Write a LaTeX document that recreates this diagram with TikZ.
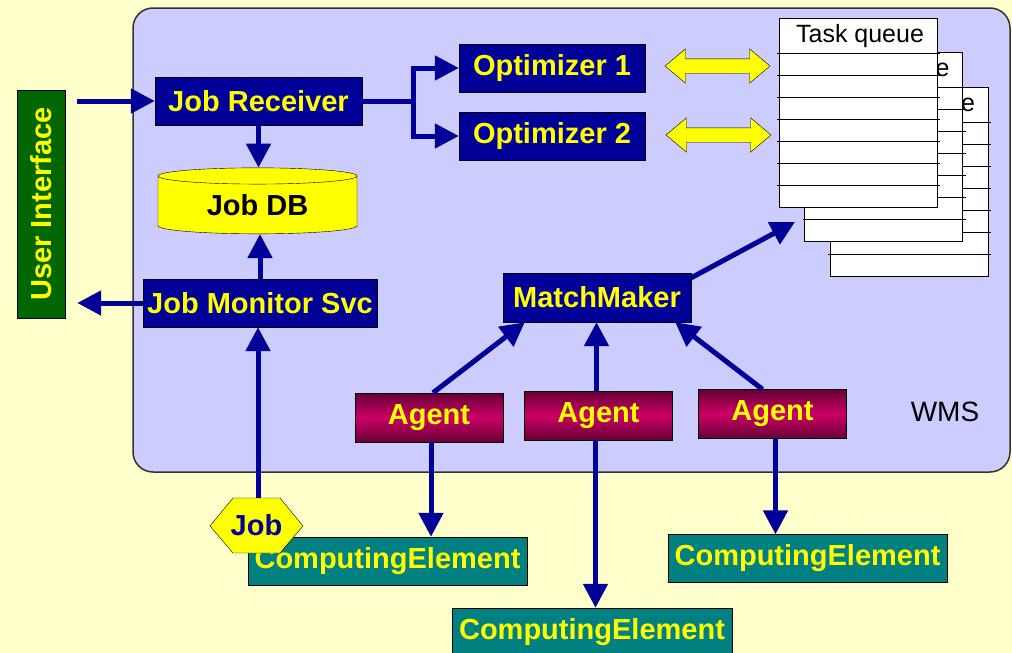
\documentclass[tikz,border=0pt]{standalone}
\usepackage{fontspec}
\setmainfont{Liberation Sans}
\usepackage{tikz}
\usetikzlibrary{positioning, arrows.meta, shapes.geometric, shapes.arrows}

\definecolor{paper}{HTML}{FFFFCC}
\definecolor{wmsfill}{HTML}{CCCCFF}
\definecolor{navy}{HTML}{000099}
\definecolor{uigreen}{HTML}{006600}
\definecolor{teal}{HTML}{008080}
\definecolor{agdark}{HTML}{660033}
\definecolor{agpink}{HTML}{CC0066}
\definecolor{hlyellow}{HTML}{FFFF00}

\tikzset{
	lbl/.style={font=\fontsize{29}{29}\selectfont\bfseries, inner sep=0pt},
	navybox/.style={lbl, draw=black, fill=navy, text=hlyellow},
	agentbox/.style={lbl, draw=black, top color=agdark, bottom color=agdark, middle color=agpink, text=hlyellow, minimum width=148pt, minimum height=49pt},
	cebox/.style={lbl, draw=black, fill=teal, text=hlyellow, minimum width=279pt, minimum height=48pt},
	flow/.style={draw=navy, line width=5pt, -{Triangle[length=24pt,width=24pt]}},
	qarrow/.style={double arrow, draw=black, fill=hlyellow, minimum height=105pt, double arrow head extend=10pt, double arrow tip angle=80, inner sep=7pt},
	page/.style={draw=black, fill=white, minimum width=158pt, minimum height=189pt, inner sep=0pt}
}

\begin{document}
\begin{tikzpicture}[x=1pt, y=-1pt]
	\useasboundingbox[fill=paper] (0,0) rectangle (1012,653);
	
	% the WMS box
	\draw [draw=black!80, line width=1.5pt, fill=wmsfill, rounded corners=20pt] (133,8) rectangle (1010,472);
	\node [font=\fontsize{28}{28}\selectfont, anchor=center] (wms) at (945,412) {WMS};
	
	% task queues
	\foreach \i in {3,2,1}{
		\pgfmathsetmacro\dx{(\i-1)*25.5}
		\pgfmathsetmacro\dy{(\i-1)*34.5}
		\node [page] (tq\i) at (858+\dx,112.5+\dy) {};
		\node [font=\fontsize{25}{25}\selectfont] at (860+\dx,36+\dy) {Task queue};
		\foreach \k in {0,...,6}
			\draw [line width=1pt] (777+\dx,53+\dy+22*\k) -- (940+\dx,53+\dy+22*\k);
	}
	\coordinate (qin) at (795,222);
	
	% boxes
	\node [navybox, rotate=90, fill=uigreen, minimum width=228pt, minimum height=48pt] (ui) at (41,204) {User Interface};
	\node [navybox, minimum width=207pt, minimum height=48pt] (jr) at (258.5,101) {Job Receiver};
	\node [cylinder, shape border rotate=90, aspect=0.16, draw=black, fill=hlyellow, minimum width=199pt, minimum height=66pt, lbl] (db) at (257.5,205) {Job DB};
	\node [navybox, minimum width=234pt, minimum height=48pt] (jms) at (260,303) {Job Monitor Svc};
	\node [navybox, minimum width=186pt, minimum height=48pt] (opt1) at (552,68) {Optimizer 1};
	\node [navybox, minimum width=186pt, minimum height=48pt] (opt2) at (552,136) {Optimizer 2};
	\node [navybox, minimum width=188pt, minimum height=49pt] (mm) at (597,297.5) {MatchMaker};
	
	\node [qarrow] (dbl1) at (717.5,66) {};
	\node [qarrow] (dbl2) at (718.5,135) {};
	
	\node [agentbox] (ag1) at (429,417.5) {Agent};
	\node [agentbox] (ag2) at (598.5,415.5) {Agent};
	\node [agentbox] (ag3) at (772.5,414) {Agent};
	
	\node [cebox] (ce1) at (387.5,561) {ComputingElement};
	\node [cebox, minimum width=280pt] (ce2) at (592,632) {ComputingElement};
	\node [cebox] (ce3) at (807.5,558.5) {ComputingElement};
	
	\draw [draw=black, fill=hlyellow] (210,526) -- (233,498) -- (280,498) -- (303,526) -- (280,553) -- (233,553) -- cycle;
	\node [lbl, text=navy, minimum width=93pt, minimum height=55pt] (job) at (256.5,525.5) {Job};
	
	% connectors
	\draw [flow] ([xshift=12pt]ui.south |- jr.west) -- (jr.west);
	\draw [flow] (jms.west) -- ([xshift=12pt]ui.south |- jms.west);
	\draw [flow] (jr.south) -- (jr.south |- db.north);
	\draw [flow] (jms.north) -- (jms.north |- db.south);
	\draw [flow] ([xshift=1.5pt]job.north) -- ([xshift=1.5pt]job.north |- jms.south);
	\draw [flow] (jr.east) -- ++(51,0) |- (opt1.west);
	\draw [flow] (jr.east) -- ++(51,0) |- (opt2.west);
	\draw [flow] ([yshift=-5pt]mm.north east) -- (qin);
	
	\draw [flow] ([xshift=4pt]ag1.north) -- ([xshift=22pt]mm.south west);
	\draw [flow] ([xshift=-2pt]ag2.north) -- ([xshift=-2pt]ag2.north |- mm.south);
	\draw [flow] ([xshift=-10pt]ag3.north) -- ([xshift=-16pt]mm.south east);
	
	\draw [flow] ([xshift=2pt]ag1.south) -- ([xshift=2pt]ag1.south |- ce1.north);
	\draw [flow] ([xshift=-3pt]ag2.south) -- ([xshift=-3pt]ag2.south |- ce2.north);
	\draw [flow] ([xshift=3pt]ag3.south) -- ([xshift=3pt]ag3.south |- ce3.north);
\end{tikzpicture}
\end{document}
